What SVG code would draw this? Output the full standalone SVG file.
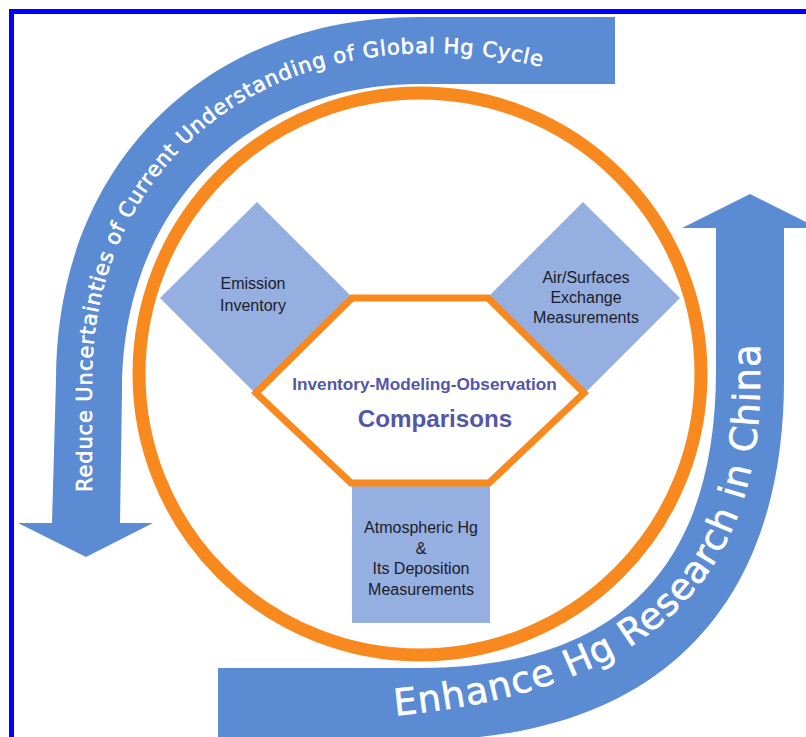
<svg xmlns="http://www.w3.org/2000/svg" width="806" height="737" viewBox="0 0 806 737">
<style>
.band{fill:#5b8bd2}
.node{fill:#95afe0}
.lbl{font-family:"Liberation Sans",Arial,sans-serif;font-size:16px;fill:#1c1c2a;text-anchor:middle}
.arc{font-family:"DejaVu Sans",Verdana,sans-serif;fill:#ffffff;stroke:#ffffff;stroke-width:0.6}
.hex{font-family:"Liberation Sans",Arial,sans-serif;font-weight:bold;fill:#5357a6;text-anchor:middle}
</style>
<defs>
<path id="topPath" d="M 92 540 L 92 380 C 92 187 231 53 430 53 A 450 450 0 0 1 620 95"/>
<path id="botPath" d="M 330 720 C 570 710 760 640 760 380 L 760 150"/>
</defs>
<rect x="0" y="0" width="806" height="737" fill="#ffffff"/>
<rect x="11.5" y="11.5" width="820" height="760" fill="none" stroke="#0000ff" stroke-width="5"/>
<g id="connectors">
<path id="arrow-reduce" class="band" d="M 615 17 L 420 17 C 205 17 56 165 56 380 L 52 523 L 18 523 L 86 557 L 153 523 L 120 523 L 122 390 C 122 210 244 84 420 84 L 615 84 Z"/>
<path id="arrow-enhance" class="band" d="M 218 668 L 420 668 C 618 668 716 568 716 370 L 716 228 L 682 228 L 750 194 L 818 228 L 784 228 L 784 380 C 784 610 655 740 420 740 L 218 740 Z"/>
</g>
<g id="ring">
<circle cx="420" cy="374" r="281" fill="none" stroke="#f7891f" stroke-width="13"/>
</g>
<g id="arrow-labels">
<text class="arc" font-size="21"><textPath href="#topPath" startOffset="48" textLength="752" lengthAdjust="spacing">Reduce Uncertainties of Current Understanding of Global Hg Cycle</textPath></text>
<text class="arc" font-size="37"><textPath href="#botPath" startOffset="65" textLength="594" lengthAdjust="spacing">Enhance Hg Research in China</textPath></text>
</g>
<g id="emission">
<polygon class="node" points="257,202 353,298 257,395 160,298"/>
<text class="lbl" x="253" y="289">Emission</text>
<text class="lbl" x="253" y="311">Inventory</text>
</g>
<g id="exchange">
<polygon class="node" points="583,202 680,298 583,395 487,298"/>
<text class="lbl" x="586" y="283">Air/Surfaces</text>
<text class="lbl" x="586" y="303">Exchange</text>
<text class="lbl" x="586" y="323">Measurements</text>
</g>
<g id="deposition">
<rect class="node" x="352" y="484" width="138" height="139"/>
<text class="lbl" x="421" y="533">Atmospheric Hg</text>
<text class="lbl" x="421" y="553.5">&amp;</text>
<text class="lbl" x="421" y="574">Its Deposition</text>
<text class="lbl" x="421" y="594.5">Measurements</text>
</g>
<g id="comparisons">
<polygon points="352,298 488,298 584,393 489,483 351,483 256,393" fill="#ffffff" stroke="#f7891f" stroke-width="7" stroke-linejoin="miter"/>
<text class="hex" x="424.5" y="390" font-size="17.2">Inventory-Modeling-Observation</text>
<text class="hex" x="435" y="427" font-size="24.2">Comparisons</text>
</g>
</svg>
